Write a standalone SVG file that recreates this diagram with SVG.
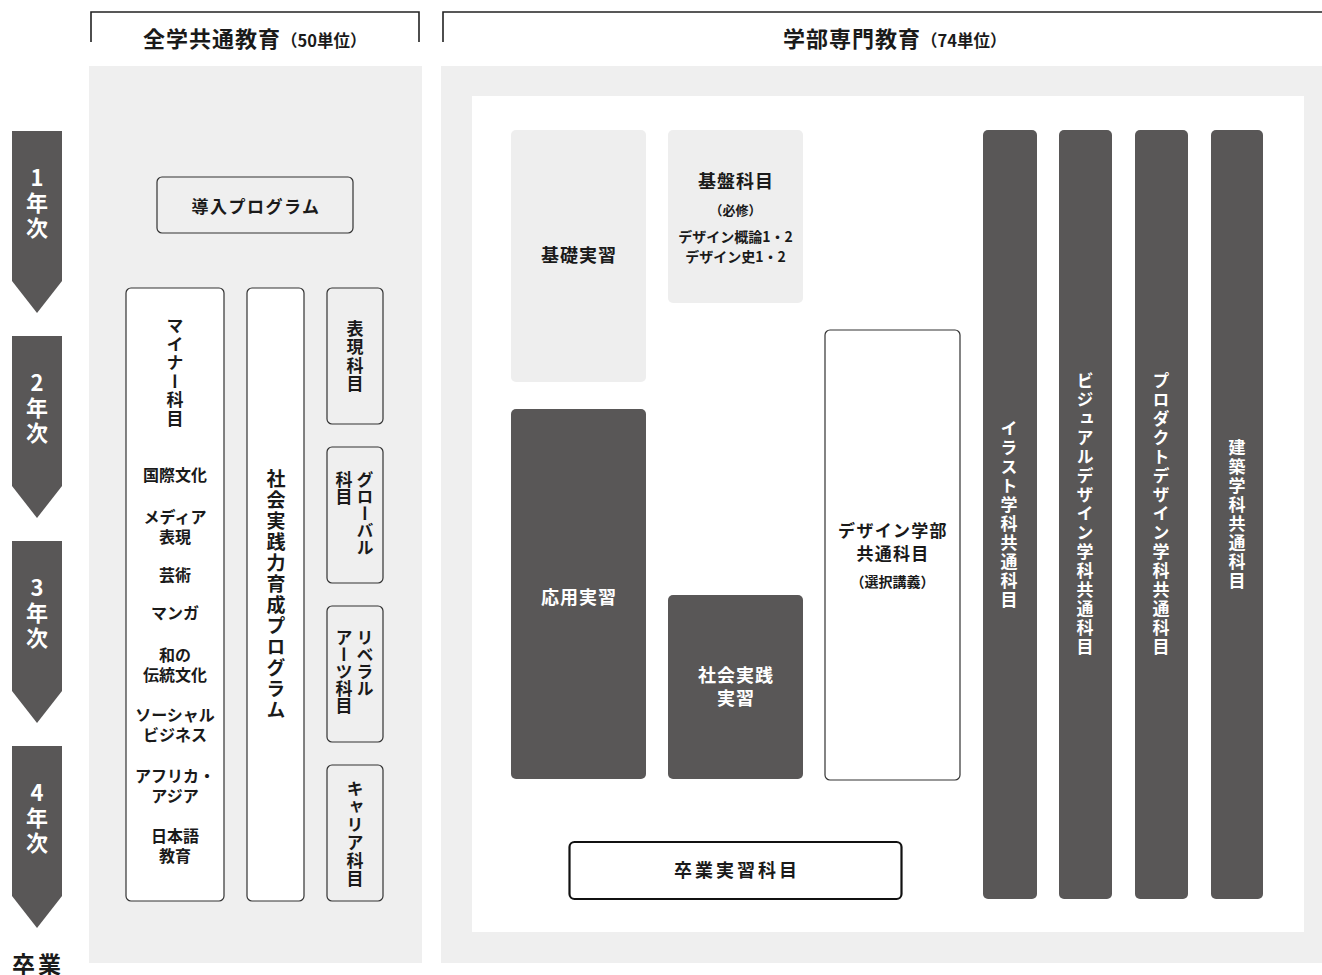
<svg xmlns="http://www.w3.org/2000/svg" width="1322" height="975" viewBox="0 0 1322 975">
<style>
.t{font-family:"Noto Sans CJK JP","Noto Sans",sans-serif;font-weight:bold;fill:#1a1a1a}
.w{fill:#ffffff}
.v{writing-mode:vertical-rl}
.up{text-orientation:upright}
.box{fill:#ffffff;stroke:#333333;stroke-width:1.2}
.gbox{fill:#efefef;stroke:#333333;stroke-width:1.2}
.dark{fill:#595757}
.light{fill:#eeeeee}
.panel{fill:#efefef}
.yr{fill:#595757}
</style>
<rect width="1322" height="975" fill="#ffffff"/>

<g id="headers">
<path d="M91,42 V12 H419 V42" fill="none" stroke="#222" stroke-width="1.6"/>
<path d="M443,42 V12 H1322" fill="none" stroke="#222" stroke-width="1.6"/>
<text class="t" x="143" y="47"><tspan font-size="22" letter-spacing="1">全学共通教育</tspan><tspan font-size="16.5">（50単位）</tspan></text>
<text class="t" x="783" y="47"><tspan font-size="22" letter-spacing="1">学部専門教育</tspan><tspan font-size="16.5">（74単位）</tspan></text>
</g>

<g id="panels">
<rect class="panel" x="89" y="66" width="333" height="897"/>
<rect class="panel" x="441" y="66" width="881" height="897"/>
<rect x="472" y="96" width="832" height="836" fill="#ffffff"/>
</g>

<g id="years">
<g id="year1">
<polygon class="yr" points="12,131 62,131 62,281 37,313 12,281"/>
<text class="t w v up" x="37" y="204.5" font-size="22" letter-spacing="3" text-anchor="middle">1年次</text>
</g>
<g id="year2">
<polygon class="yr" points="12,336 62,336 62,486 37,518 12,486"/>
<text class="t w v up" x="37" y="409.5" font-size="22" letter-spacing="3" text-anchor="middle">2年次</text>
</g>
<g id="year3">
<polygon class="yr" points="12,541 62,541 62,691 37,723 12,691"/>
<text class="t w v up" x="37" y="614.5" font-size="22" letter-spacing="3" text-anchor="middle">3年次</text>
</g>
<g id="year4">
<polygon class="yr" points="12,746 62,746 62,896 37,928 12,896"/>
<text class="t w v up" x="37" y="819.5" font-size="22" letter-spacing="3" text-anchor="middle">4年次</text>
</g>
<text id="graduation" class="t" x="12" y="973" font-size="23" letter-spacing="3">卒業</text>
</g>

<g id="dounyu">
<rect class="gbox" x="157" y="177" width="196" height="56" rx="5"/>
<text class="t" x="256" y="212.5" font-size="17" letter-spacing="1.5" text-anchor="middle">導入プログラム</text>
</g>

<g id="minor">
<rect class="box" x="126" y="288" width="98" height="613" rx="5"/>
<text class="t v" x="175" y="373" font-size="17" letter-spacing="1.5" text-anchor="middle">マイナー科目</text>
<g class="t" font-size="16" text-anchor="middle">
<text x="175" y="481">国際文化</text>
<text x="175" y="523">メディア<tspan x="175" dy="20">表現</tspan></text>
<text x="175" y="581">芸術</text>
<text x="175" y="619">マンガ</text>
<text x="175" y="661">和の<tspan x="175" dy="20">伝統文化</tspan></text>
<text x="175" y="721">ソーシャル<tspan x="175" dy="20">ビジネス</tspan></text>
<text x="175" y="782">アフリカ・<tspan x="175" dy="20">アジア</tspan></text>
<text x="175" y="842">日本語<tspan x="175" dy="20">教育</tspan></text>
</g>
</g>

<g id="shakai-program">
<rect class="box" x="247" y="288" width="57" height="613" rx="5"/>
<text class="t v" x="276" y="595" font-size="19" letter-spacing="2" text-anchor="middle">社会実践力育成プログラム</text>
</g>

<g id="hyogen">
<rect class="gbox" x="327" y="288" width="56" height="136" rx="5"/>
<text class="t v" x="355" y="357" font-size="17" letter-spacing="1.5" text-anchor="middle">表現科目</text>
</g>

<g id="global">
<rect class="gbox" x="327" y="447" width="56" height="136" rx="5"/>
<text class="t v" x="365" y="471" font-size="17">グローバル</text>
<text class="t v" x="344" y="471" font-size="17">科目</text>
</g>

<g id="liberal">
<rect class="gbox" x="327" y="606" width="56" height="136" rx="5"/>
<text class="t v" x="365" y="629" font-size="17">リベラル</text>
<text class="t v" x="344" y="629" font-size="17">アーツ科目</text>
</g>

<g id="career">
<rect class="gbox" x="327" y="765" width="56" height="136" rx="5"/>
<text class="t v" x="355" y="834" font-size="17" letter-spacing="1" text-anchor="middle">キャリア科目</text>
</g>

<g id="kiso">
<rect class="light" x="511" y="130" width="135" height="252" rx="5"/>
<text class="t" x="579" y="262" font-size="18" letter-spacing="1" text-anchor="middle">基礎実習</text>
</g>

<g id="kiban">
<rect class="light" x="668" y="130" width="135" height="173" rx="5"/>
<text class="t" x="736" y="188" font-size="18" letter-spacing="1" text-anchor="middle">基盤科目</text>
<text class="t" x="735.5" y="215" font-size="13" text-anchor="middle">（必修）</text>
<text class="t" x="735.5" y="242" font-size="14" text-anchor="middle">デザイン概論1・2<tspan x="735.5" dy="20">デザイン史1・2</tspan></text>
</g>

<g id="design-common">
<rect class="box" x="825" y="330" width="135" height="450" rx="5"/>
<text class="t" x="893" y="536.5" font-size="17" letter-spacing="1.3" text-anchor="middle">デザイン学部<tspan x="893" dy="23">共通科目</tspan></text>
<text class="t" x="892.5" y="587" font-size="14" text-anchor="middle">（選択講義）</text>
</g>

<g id="oyo">
<rect class="dark" x="511" y="409" width="135" height="370" rx="5"/>
<text class="t w" x="579" y="604" font-size="18" letter-spacing="1" text-anchor="middle">応用実習</text>
</g>

<g id="shakai-jisshu">
<rect class="dark" x="668" y="595" width="135" height="184" rx="5"/>
<text class="t w" x="736" y="682" font-size="18" letter-spacing="1" text-anchor="middle">社会実践<tspan x="736" dy="23">実習</tspan></text>
</g>

<g id="sotsugyo">
<rect x="569.5" y="842" width="332" height="57" rx="5" fill="#ffffff" stroke="#111" stroke-width="2.2"/>
<text class="t" x="737" y="877" font-size="18" letter-spacing="3" text-anchor="middle">卒業実習科目</text>
</g>

<g id="illust">
<rect class="dark" x="983" y="130" width="54" height="769" rx="5"/>
<text class="t w v" x="1009" y="515" font-size="17" letter-spacing="2" text-anchor="middle">イラスト学科共通科目</text>
</g>
<g id="visual">
<rect class="dark" x="1059" y="130" width="53" height="769" rx="5"/>
<text class="t w v" x="1085" y="515" font-size="17" letter-spacing="2" text-anchor="middle">ビジュアルデザイン学科共通科目</text>
</g>
<g id="product">
<rect class="dark" x="1135" y="130" width="53" height="769" rx="5"/>
<text class="t w v" x="1161" y="515" font-size="17" letter-spacing="2" text-anchor="middle">プロダクトデザイン学科共通科目</text>
</g>
<g id="kenchiku">
<rect class="dark" x="1211" y="130" width="52" height="769" rx="5"/>
<text class="t w v" x="1237" y="515" font-size="17" letter-spacing="2" text-anchor="middle">建築学科共通科目</text>
</g>

<g id="connectors"></g>
</svg>
